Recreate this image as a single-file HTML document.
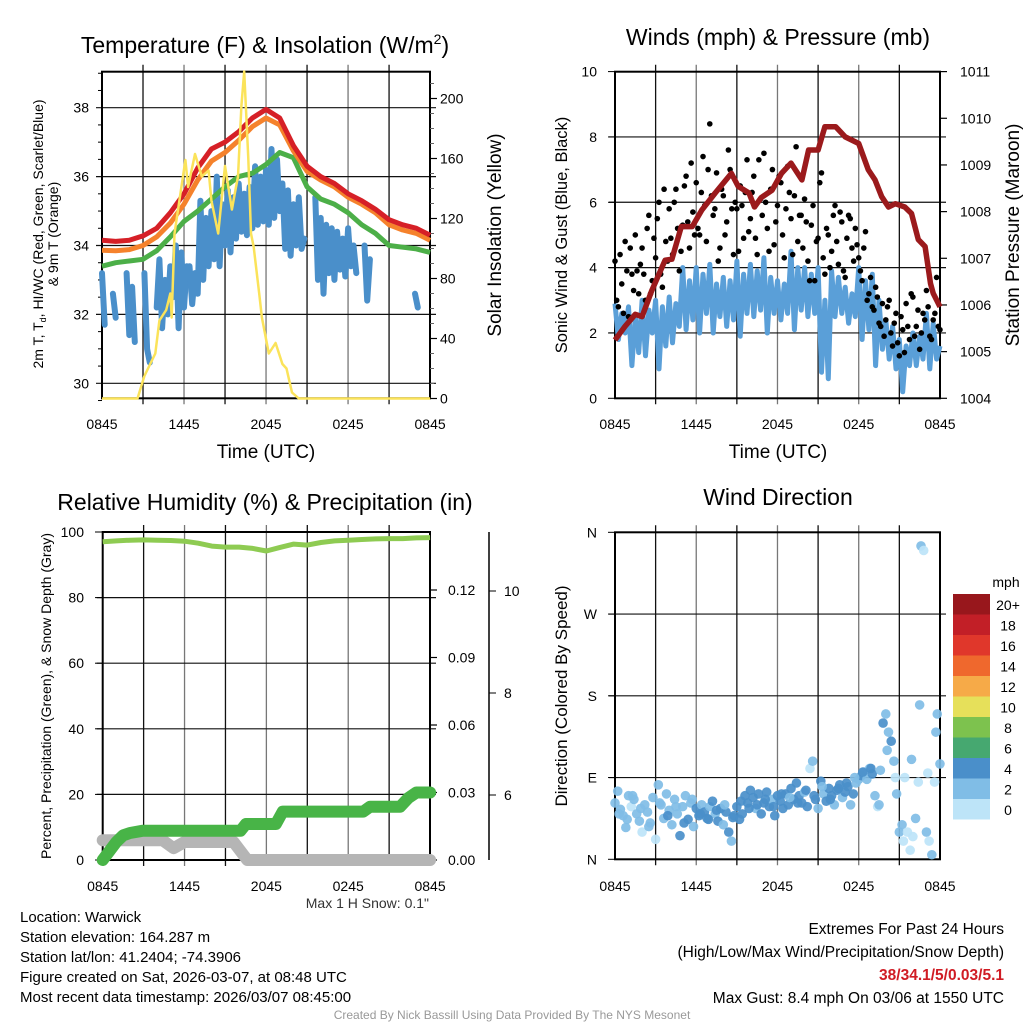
<!DOCTYPE html>
<html><head><meta charset="utf-8"><style>
html,body{margin:0;padding:0;background:#fff;}
svg{display:block;font-family:"Liberation Sans",Arial,sans-serif;}
</style></head><body>
<svg id="c" width="1024" height="1024" viewBox="0 0 1024 1024" xmlns="http://www.w3.org/2000/svg">
<rect width="1024" height="1024" fill="#fff"/>
<text x="265" y="53" font-size="23" text-anchor="middle">Temperature (F) &amp; Insolation (W/m<tspan font-size="14" dy="-9">2</tspan><tspan dy="9">)</tspan></text>
<text x="778" y="45" font-size="23" text-anchor="middle">Winds (mph) &amp; Pressure (mb)</text>
<text x="265" y="510" font-size="23" text-anchor="middle">Relative Humidity (%) &amp; Precipitation (in)</text>
<text x="778" y="505" font-size="23" text-anchor="middle">Wind Direction</text>
<text x="266" y="458" font-size="19" text-anchor="middle">Time (UTC)</text>
<text x="778" y="458" font-size="19" text-anchor="middle">Time (UTC)</text>
<text transform="translate(43,234) rotate(-90)" font-size="14" text-anchor="middle">2m T, T<tspan font-size="9" dy="3">d</tspan><tspan dy="-3">, HI/WC (Red, Green, Scarlet/Blue)</tspan></text>
<text transform="translate(58,234) rotate(-90)" font-size="14" text-anchor="middle">&amp; 9m T (Orange)</text>
<text transform="translate(501,235) rotate(-90)" font-size="19" text-anchor="middle">Solar Insolation (Yellow)</text>
<text transform="translate(567,235) rotate(-90)" font-size="16.5" text-anchor="middle">Sonic Wind &amp; Gust (Blue, Black)</text>
<text transform="translate(1019,235) rotate(-90)" font-size="19" text-anchor="middle">Station Pressure (Maroon)</text>
<text transform="translate(51,696) rotate(-90)" font-size="14" text-anchor="middle">Percent, Precipitation (Green), &amp; Snow Depth (Gray)</text>
<text transform="translate(567,696) rotate(-90)" font-size="17" text-anchor="middle">Direction (Colored By Speed)</text>
<text x="429" y="908" font-size="14" text-anchor="end" fill="#333">Max 1 H Snow: 0.1"</text>
<g font-size="15">
<text x="20" y="922">Location: Warwick</text>
<text x="20" y="942">Station elevation: 164.287 m</text>
<text x="20" y="962">Station lat/lon: 41.2404; -74.3906</text>
<text x="20" y="982">Figure created on Sat, 2026-03-07, at 08:48 UTC</text>
<text x="20" y="1002">Most recent data timestamp: 2026/03/07 08:45:00</text>
</g>
<g font-size="15.5" text-anchor="end">
<text x="1004" y="934">Extremes For Past 24 Hours</text>
<text x="1004" y="957">(High/Low/Max Wind/Precipitation/Snow Depth)</text>
<text x="1004" y="980" fill="#d01c24" font-weight="bold">38/34.1/5/0.03/5.1</text>
<text x="1004" y="1003">Max Gust: 8.4 mph On 03/06 at 1550 UTC</text>
</g>
<text x="512" y="1019" font-size="12" text-anchor="middle" fill="#999">Created By Nick Bassill Using Data Provided By The NYS Mesonet</text>
</svg>
<script>
// ---------- data ----------
var xTickLabels = ["0845","1445","2045","0245","0845"];
var tempTicks = [30,32,34,36,38];
var insolTicks = [0,40,80,120,160,200];
var windTicks = [0,2,4,6,8,10];
var presTicks = [1004,1005,1006,1007,1008,1009,1010,1011];
var rhTicks = [0,20,40,60,80,100];
var precipTicks = ["0.00","0.03","0.06","0.09","0.12"];
var snowTicks = [6,8,10];
var dirTickLabels = ["N","E","S","W","N"];
var speedLegend = ["0","2","4","6","8","10","12","14","16","18","20+"];
var speedColors = ["#bde4f8","#80bde6","#4a8fca","#46a870","#7dc24e","#e6e05a","#f6aa48","#ef682d","#e0372b","#c21f27","#98171c"];

var redT = [34.15,34.12,34.15,34.28,34.5,34.95,35.5,36.25,36.8,37.0,37.3,37.7,37.95,37.7,36.9,36.3,36.0,35.8,35.5,35.3,35.05,34.75,34.6,34.5,34.3];
var orangeT = [33.86,33.85,33.88,34.0,34.25,34.65,35.2,35.9,36.45,36.7,37.05,37.45,37.7,37.5,36.75,36.15,35.9,35.7,35.4,35.2,34.95,34.6,34.45,34.35,34.15];
var greenT = [33.4,33.5,33.55,33.6,33.85,34.25,34.7,35.0,35.35,35.7,36.0,36.1,36.35,36.7,36.55,35.7,35.35,35.2,34.95,34.6,34.35,34.0,33.95,33.9,33.8];
var blueStarts = [0,0.8,1.8,3.1,4.0,5.2,6.4,15.6,19.2,22.9];
var blueVals = [
 [33.2,31.7],
 [32.6,31.9],
 [33.2,31.4,32.8,31.2],
 [33.2,31.0,30.6],
 [32.2,33.6,31.6,33.0,32.0,33.4],
 [32.5,34.0,31.6,33.8,32.2,33.4],
 [33.4,32.3,33.2,32.6,35.3,33.0,34.8,33.4,35.0,33.6,36.0,33.4,35.2,34.0,35.6,33.8,35.4,34.2,35.8,34.4,35.5,34.3,35.7,34.5,36.3,34.6,36.0,34.7,36.2,34.6,36.8,34.8,36.5,35.0,35.8,33.9,35.6,33.7,35.2,34.0,35.4,33.9,34.2],
 [35.4,33.0,34.8,32.6,34.6,33.2,34.5,33.0,34.4,33.3,34.2,33.1,34.5,33.4,34.0,33.2],
 [34.0,32.4,33.6],
 [32.6,32.2]
];
var insolH = [0,2.6,3.1,3.9,4.2,4.7,5.0,5.1,5.3,6.1,6.3,6.8,7.3,7.8,8.0,8.5,9.0,9.5,9.7,9.95,10.2,10.4,10.7,10.9,11.1,11.5,11.7,12.2,12.7,13.2,13.5,13.9,14.4,24];
var insolV = [0,0,15,30,52,59,70,54,110,159,141,163,148,152,132,110,155,126,136,148,195,218,160,110,101,70,54,30,37,23,20,4,0,0];

var sonicWind = [2.9,1.8,2.6,2.0,2.8,1.0,2.5,1.4,3.0,1.3,2.7,2.0,3.0,0.9,2.8,1.6,3.1,1.7,2.9,2.2,4.0,2.1,3.6,2.4,4.0,2.0,3.8,2.6,4.1,2.0,3.5,2.5,3.7,2.2,3.6,2.4,4.2,1.9,3.8,2.6,4.1,2.5,3.9,2.7,4.3,2.0,3.7,2.6,3.6,2.4,3.5,2.6,4.5,2.1,4.0,2.7,4.0,2.5,3.8,2.6,4.0,0.8,3.0,0.6,3.9,2.5,3.7,2.6,3.4,2.3,3.2,2.5,4.0,1.8,3.6,2.1,3.8,1.0,3.0,1.5,2.4,1.2,2.2,0.9,1.8,0.2,1.6,1.0,2.0,1.0,1.9,1.2,2.6,0.9,2.3,1.2,1.6];
var gustA = [4.2,2.8,3.5,4.8,2.5,3.8,5.0,3.2,4.6,3.0,5.6,3.6,4.3,6.0,3.4,4.8,5.8,4.4,6.4,3.9,5.3,6.8,4.6,5.7,6.6,5.0,7.4,4.8,8.4,5.6,6.9,4.6,6.2,5.4,7.0,4.4,5.8,6.5,4.9,7.3,5.5,6.8,4.4,6.1,7.5,5.2,6.4,4.7,5.9,6.6,4.3,7.1,5.5,6.2,4.8,5.6,6.1,4.2,5.3,3.6,4.9,6.9,3.8,5.0,4.5,5.9,4.1,5.4,3.7,5.6,4.6,5.2,4.3,3.6,5.1,3.2,2.8,3.4,2.3,2.9,2.4,3.0,1.6,2.6,1.3,2.1,2.9,1.8,3.1,2.2,1.5,2.6,3.3,1.9,2.4,3.7,2.1];
var gustB = [3.0,4.4,2.6,3.9,4.6,3.3,3.9,4.1,3.8,5.2,3.2,4.9,5.5,3.8,6.4,4.2,4.9,6.0,5.2,4.5,6.5,5.4,7.2,5.0,5.2,6.3,5.9,7.0,6.2,5.8,4.2,6.4,5.0,7.6,5.8,6.0,4.5,5.9,6.3,5.1,6.3,4.9,7.3,5.6,6.0,4.5,7.0,5.4,6.8,5.0,5.8,6.3,4.4,7.7,5.6,4.6,5.4,3.6,5.9,4.8,6.6,4.3,5.2,4.0,5.6,4.8,5.7,3.9,4.9,5.5,4.2,4.7,3.9,4.6,3.0,3.7,2.7,3.1,2.2,1.9,2.8,2.0,2.3,1.7,2.5,1.4,2.2,3.2,1.9,2.7,2.0,2.4,2.8,1.8,2.6,2.2];
var presH = [0,0.74,1.5,2.0,2.7,3.7,4.2,4.9,5.7,6.4,7.4,8.6,9.1,9.9,10.3,10.8,11.6,12.3,13.0,13.8,14.3,15.0,15.5,16.3,17.0,18.0,18.7,19.2,19.7,20.2,20.7,21.4,21.9,22.4,22.9,23.3,23.5,24.0];
var presV = [1005.25,1005.54,1005.8,1005.75,1006.3,1006.96,1006.98,1007.68,1007.68,1008.03,1008.4,1008.82,1008.54,1008.4,1008.1,1008.3,1008.46,1008.82,1009.04,1008.68,1009.32,1009.32,1009.82,1009.82,1009.6,1009.46,1008.9,1008.68,1008.32,1008.1,1008.17,1008.1,1007.96,1007.4,1007.25,1006.46,1006.25,1005.96];

var rhH = [0,1,2,3,4,5,6,7,8,9,10,11,12,13,14,15,16,17,18,19,20,21,22,23,24];
var rhV = [97.0,97.3,97.5,97.6,97.5,97.4,97.2,96.6,95.7,95.4,95.4,95.0,94.2,95.3,96.3,96.0,96.8,97.3,97.5,97.7,97.9,98.0,98.0,98.2,98.3];
var precipH = [0,0.5,1.0,1.5,2.0,2.9,10.1,10.5,12.7,13.2,19.1,19.6,21.8,22.4,23.0,24.0];
var precipV = [0,0.004,0.008,0.011,0.012,0.013,0.013,0.016,0.016,0.0215,0.0215,0.0237,0.0237,0.0275,0.030,0.030];
var snowH = [0,4.4,5.2,6.0,9.6,10.6,24];
var snowPct = [6,6,3.6,5.5,5.5,0,0];

var dirDeg = [62,75,55,48,35,70,58,66,50,42,30,60,52,40,68,22,82,60,45,72,54,38,66,50,26,58,70,44,62,36,56,48,60,52,45,58,64,50,42,56,38,52,30,20,48,58,44,50,70,62,76,68,56,72,50,62,74,58,66,48,70,64,56,72,60,78,66,84,70,62,74,58,100,108,66,56,86,72,64,78,70,60,76,82,68,74,80,60,72,84,88,92,96,88,100,94,70,58,98,150,160,140,130,108,72,30,38,90,30,10,25,45,85,345,340,30,20,5,85,160,105];
var dirSpd = [3,3,2,3,2,3,1,3,2,3,1,3,2,3,2,1,3,2,3,3,2,3,3,3,4,3,3,4,3,2,4,4,3,4,5,3,4,3,5,4,3,5,4,3,5,4,5,5,4,5,4,5,3,5,4,5,4,5,3,5,5,4,5,4,5,5,4,5,4,5,3,4,1,3,5,2,4,3,5,4,5,3,4,5,3,4,5,3,4,3,3,4,3,2,3,4,3,1,3,4,3,3,4,3,3,2,3,1,1,0,1,2,1,2,1,3,1,3,1,2,3];
var dirExtraH = [0.3,0.9,1.3,1.9,2.5,3.3,3.9,4.5,5.1,5.7,6.3,6.9,7.5,8.1,8.7,9.3,9.9,10.5,11.1,11.7,12.3,12.9,13.5,14.1,14.7,15.3,15.9,16.5,17.1,17.7,18.3,18.9,19.5,20.1,20.7,21.3,21.9,22.5,23.1,23.7];
var dirExtraD = [50,44,70,56,36,62,48,58,40,66,50,44,54,60,46,64,56,60,66,58,72,68,62,76,70,80,66,78,84,90,96,100,60,120,90,20,110,170,95,140];
var dirExtraS = [3,2,3,3,2,3,4,3,4,3,4,5,4,3,5,4,5,4,5,4,5,3,5,4,5,3,4,5,4,3,4,4,3,3,1,1,2,3,1,2];

// ---------- helpers ----------
var NS = "http://www.w3.org/2000/svg";
var svg = document.getElementById("c");
function el(tag, attrs, parent){
  var e = document.createElementNS(NS, tag);
  for (var k in attrs) e.setAttribute(k, attrs[k]);
  (parent || svg).appendChild(e);
  return e;
}
function txt(x,y,s,size,anchor,parent){
  var t = el("text",{x:x,y:y,"font-size":size,"text-anchor":anchor||"middle"},parent);
  t.textContent = s;
  return t;
}
function linePath(xs, ys){
  var d="";
  for (var i=0;i<xs.length;i++){ d += (i?"L":"M")+xs[i].toFixed(1)+","+ys[i].toFixed(1); }
  return d;
}

// ---------- scales ----------
function x1(h){return 102+h*13.67;}
function yT(t){return 383.3-(t-30)*34.45;}
function yI(v){return 398.5-v*1.5;}
function x2(h){return 615+h*13.54;}
function yW(w){return 398.3-w*32.67;}
function yP(p){return 398.3-(p-1004)*46.67;}
function x3(h){return 102.7+h*13.64;}
function yRH(v){return 860-v*3.28;}
function yPr(v){return 860-v*2250;}
function ySn(v){return 795-(v-6)*51;}
function x4(h){return 615+h*13.54;}
function yD(d){return 859.3-d*0.9083;}

// ---------- frames & grids ----------
function frame(name, L,T,R,B, xf, hyList){
  var g = el("g",{});
  
  
  for (var k=1;k<8;k++){
    var x = xf(k*3);
    var gl = el("line",{x1:x,y1:T-7,x2:x,y2:B+6,stroke:(k%2? "#111":"#777"),"stroke-width":1.3},g);
    
    
  }
  hyList.forEach(function(y){
    var hl = el("line",{x1:L-6,y1:y,x2:R+6,y2:y,stroke:"#111","stroke-width":1.2},g);
    
    
  });
  var r = el("rect",{x:L,y:T,width:R-L,height:B-T,fill:"none",stroke:"#000","stroke-width":2},g);
  
  
  for (var i=0;i<xTickLabels.length;i++){
    var t = txt(xf(i*6), 430, xTickLabels[i], 14, "middle", g);
    
    
  }
  return g;
}

var g1 = frame("temperature-panel",102,71.7,430,398.3,x1,tempTicks.map(yT));
g1.querySelectorAll("text").forEach(function(t){t.setAttribute("y",429);});
tempTicks.forEach(function(v){
  var t = txt(89, yT(v)+5, String(v), 14, "end", g1);
  
  
});
[29.5,30.5,31,31.5,32.5,33,33.5,34.5,35,35.5,36.5,37,37.5,38.5,39].forEach(function(v){
  el("line",{x1:98,y1:yT(v),x2:102,y2:yT(v),stroke:"#000"},g1);
});
insolTicks.forEach(function(v){
  el("line",{x1:430,y1:yI(v),x2:437,y2:yI(v),stroke:"#000","stroke-width":1.2},g1);
  var t = txt(440, yI(v)+5, String(v), 14, "start", g1);
  
  
});
for (var v=10; v<220; v+=10){ if (v%40) el("line",{x1:430,y1:yI(v),x2:434,y2:yI(v),stroke:"#666"},g1); }

var g2 = frame("wind-panel",615,71.7,940,398.3,x2,windTicks.slice(1,5).map(yW));
g2.querySelectorAll("text").forEach(function(t){t.setAttribute("y",429);});
windTicks.forEach(function(v){
  el("line",{x1:608,y1:yW(v),x2:615,y2:yW(v),stroke:"#000"},g2);
  var t = txt(597, yW(v)+5, String(v), 14, "end", g2);
  
  
});
presTicks.forEach(function(v){
  el("line",{x1:940,y1:yP(v),x2:947,y2:yP(v),stroke:"#000","stroke-width":1.2},g2);
  var t = txt(960, yP(v)+5, String(v), 14, "start", g2);
  
  
});

var g3 = frame("humidity-panel",102.7,532,430,860,x3,rhTicks.slice(1,5).map(yRH));
g3.querySelectorAll("text").forEach(function(t){t.setAttribute("y",891);});
rhTicks.forEach(function(v){
  el("line",{x1:95,y1:yRH(v),x2:102,y2:yRH(v),stroke:"#000"},g3);
  var t = txt(84, yRH(v)+5, String(v), 14, "end", g3);
  
  
});
precipTicks.forEach(function(s){
  var y = yPr(parseFloat(s));
  el("line",{x1:430,y1:y,x2:437,y2:y,stroke:"#000","stroke-width":1.2},g3);
  var t = txt(448, y+5, s, 14, "start", g3);
  
  
});
var snowAxis = el("line",{x1:489,y1:532,x2:489,y2:860,stroke:"#000","stroke-width":1.5},g3);


snowTicks.forEach(function(v){
  el("line",{x1:489,y1:ySn(v),x2:496,y2:ySn(v),stroke:"#000"},g3);
  var t = txt(504, ySn(v)+5, String(v), 14, "start", g3);
  
  
});

var g4 = frame("direction-panel",615,532.3,940,859.3,x4,[90,180,270].map(yD));
g4.querySelectorAll("text").forEach(function(t){t.setAttribute("y",891);});
dirTickLabels.forEach(function(s,i){
  el("line",{x1:608,y1:yD(i*90),x2:615,y2:yD(i*90),stroke:"#000"},g4);
  var t = txt(597, yD(i*90)+5, s, 14, "end", g4);
  
  
});

// ---------- series: panel 1 ----------
var hrs = redT.map(function(_,i){return i;});
var bluePaths = el("g",{});


blueStarts.forEach(function(s,k){
  var xs = blueVals[k].map(function(_,i){return x1(s+i*0.2);});
  var ys = blueVals[k].map(yT);
  el("path",{d:linePath(xs,ys),fill:"none",stroke:"#4a8fca","stroke-width":6,"stroke-linejoin":"round","stroke-linecap":"round"},bluePaths);
});
var gp = el("path",{d:linePath(hrs.map(x1),greenT.map(yT)),fill:"none",stroke:"#4caf48","stroke-width":5,"stroke-linejoin":"round"});


var op = el("path",{d:linePath(hrs.map(x1),orangeT.map(yT)),fill:"none",stroke:"#f5822c","stroke-width":5,"stroke-linejoin":"round"});


var rp = el("path",{d:linePath(hrs.map(x1),redT.map(yT)),fill:"none",stroke:"#d62027","stroke-width":5,"stroke-linejoin":"round"});


var yp = el("path",{d:linePath(insolH.map(x1),insolV.map(yI)),fill:"none",stroke:"#fbe35a","stroke-width":2.5,"stroke-linejoin":"round"});



// ---------- series: panel 2 ----------
var sw = el("path",{d:linePath(sonicWind.map(function(_,i){return x2(i*0.25);}),sonicWind.map(yW)),fill:"none",stroke:"#5a9fd8","stroke-width":5,"stroke-linejoin":"round"});


var gg = el("g",{fill:"#000"});


gustA.forEach(function(v,i){
  var c = el("circle",{cx:x2(i*0.25),cy:yW(v),r:2.8},gg);
  
  
});
gustB.forEach(function(v,i){
  var c = el("circle",{cx:x2(i*0.25+0.125),cy:yW(v),r:2.8},gg);
  
  
});
var pp = el("path",{d:linePath(presH.map(x2),presV.map(yP)),fill:"none",stroke:"#9b1a1c","stroke-width":5.5,"stroke-linejoin":"round"});



// ---------- series: panel 3 ----------
var sn = el("path",{d:linePath(snowH.map(x3),snowPct.map(yRH)),fill:"none",stroke:"#b5b5b5","stroke-width":12,"stroke-linecap":"round","stroke-linejoin":"round"});


var pr = el("path",{d:linePath(precipH.map(x3),precipV.map(yPr)),fill:"none",stroke:"#48b447","stroke-width":12,"stroke-linecap":"round","stroke-linejoin":"round"});


var rh = el("path",{d:linePath(rhH.map(x3),rhV.map(yRH)),fill:"none",stroke:"#8ecb52","stroke-width":5,"stroke-linejoin":"round"});



// ---------- series: panel 4 ----------
var dg = el("g",{});


function spdColor(s){ return speedColors[Math.min(10, Math.floor(s/2))]; }
dirDeg.forEach(function(d,i){
  var c = el("circle",{cx:x4(i*0.2),cy:yD(d),r:4.8,fill:spdColor(dirSpd[i]),"fill-opacity":0.92},dg);
  
  
});
dirExtraH.forEach(function(h,i){
  var c = el("circle",{cx:x4(h),cy:yD(dirExtraD[i]),r:4.8,fill:spdColor(dirExtraS[i]),"fill-opacity":0.92},dg);
  
  
});

// legend
var lg = el("g",{});


var lt = txt(1006, 587, "mph", 14, "middle", lg);


speedLegend.forEach(function(s,i){
  var k = speedLegend.length-1-i;
  var y = 594 + i*20.5;
  var r = el("rect",{x:953,y:y,width:37,height:20.5,fill:speedColors[k]},lg);
  
  
  var t = txt(1008, y+16, speedLegend[k], 14, "middle", lg);
  
  
});
</script>
</body></html>
